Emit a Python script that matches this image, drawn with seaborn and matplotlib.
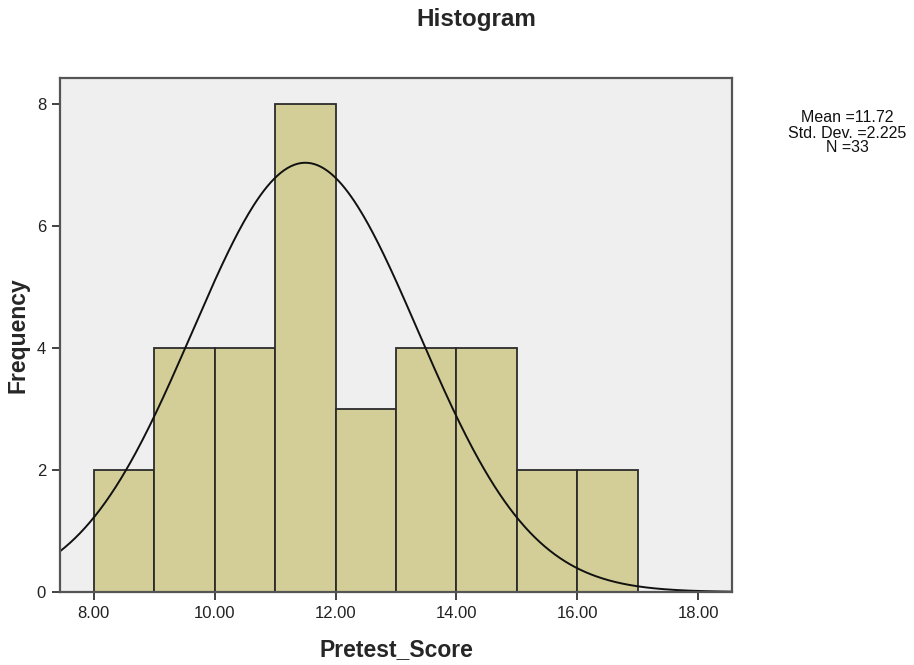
import numpy as np
import pandas as pd
import matplotlib
matplotlib.use("Agg")
import matplotlib.pyplot as plt
import seaborn as sns

# Data (integer scores, bins of width 1)
bin_left = [8, 9, 10, 11, 12, 13, 14, 15, 16]
counts = [2, 4, 4, 8, 3, 4, 4, 2, 2]
bin_edges = [8, 9, 10, 11, 12, 13, 14, 15, 16, 17]

# Normal curve as drawn (centre and spread)
curve_mean = 11.5
curve_sd = 1.87
n_total = 33

stats_lines = ["Mean =11.72", "Std. Dev. =2.225", "N =33"]
x_ticks = [8, 10, 12, 14, 16, 18]
y_ticks = [0, 2, 4, 6, 8]

sns.set_theme(style="white")
plt.rcParams["font.family"] = ["Liberation Sans", "DejaVu Sans"]

df = pd.DataFrame({"Pretest_Score": bin_left, "count": counts})

fig = plt.figure(figsize=(9.14, 6.65), dpi=100)
ax = fig.add_axes([0.0656, 0.1098, 0.7353, 0.7729])
ax.set_facecolor("#efefef")

sns.histplot(data=df, x="Pretest_Score", weights="count", bins=bin_edges,
             color="#d3ce97", alpha=1, edgecolor="#2b2b2b", linewidth=1.3, ax=ax)

xs = np.linspace(7.44, 18.56, 400)
ys = n_total / (curve_sd * np.sqrt(2 * np.pi)) * np.exp(-0.5 * ((xs - curve_mean) / curve_sd) ** 2)
sns.lineplot(x=xs, y=ys, color="#111111", linewidth=1.4, ax=ax)

ax.set_xlim(7.44, 18.56)
ax.set_ylim(0, 8.43)
ax.set_xticks(x_ticks)
ax.set_xticklabels([f"{t:.2f}" for t in x_ticks])
ax.set_yticks(y_ticks)
ax.tick_params(axis="both", direction="out", length=6, width=1.3, color="#333333",
               labelsize=12, labelcolor="#222222", bottom=True, left=True, pad=4)
for s in ax.spines.values():
    s.set_color("#555555")
    s.set_linewidth(1.6)

ax.set_xlabel("Pretest_Score", fontsize=16.5, fontweight="bold")
ax.set_ylabel("Frequency", fontsize=16.5, fontweight="bold")
ax.xaxis.set_label_coords(0.5, -0.090)
ax.yaxis.set_label_coords(-0.046, 0.5)

fig.text(0.521, 0.970, "Histogram", ha="center", va="center",
         fontsize=17.5, fontweight="bold")
# stats box, one line each, 15 px apart
for i, line in enumerate(stats_lines):
    fig.text(0.927, 1 - (118 + 15 * i) / 665, line, ha="center", va="center",
             fontsize=11.5, color="#111111")

fig.savefig("out.png", dpi=100)
